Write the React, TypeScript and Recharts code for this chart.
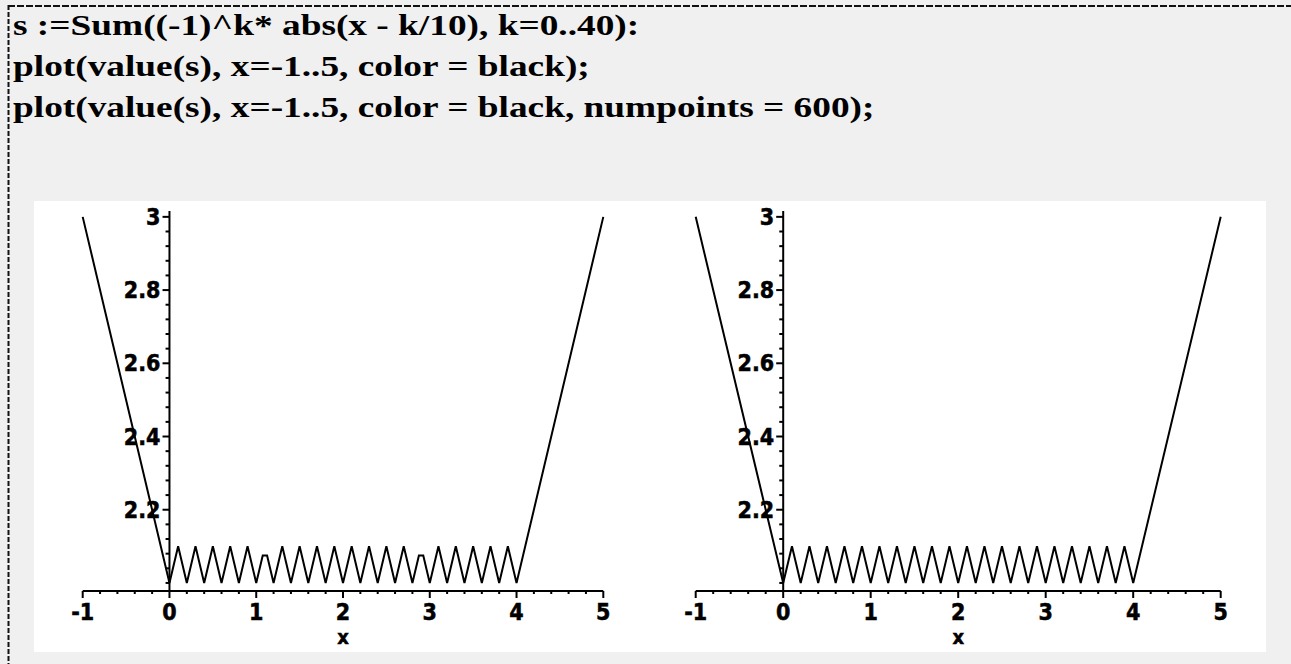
import React from 'react';
import { LineChart, Line, XAxis, YAxis, ReferenceLine } from 'recharts';

// value(s), s = Sum((-1)^k*abs(x - k/10), k=0..40), on x = -1..5
// default sampling: the sampler cuts two of the teeth short
const coarseX = [-1, 0, 0.1, 0.2, 0.3, 0.4, 0.5, 0.6, 0.7, 0.8, 0.9, 1, 1.075, 1.125, 1.2, 1.3, 1.4, 1.5, 1.6, 1.7, 1.8, 1.9, 2, 2.1, 2.2, 2.3, 2.4, 2.5, 2.6, 2.7, 2.8, 2.875, 2.925, 3, 3.1, 3.2, 3.3, 3.4, 3.5, 3.6, 3.7, 3.8, 3.9, 4, 5];
const coarseY = [3, 2, 2.1, 2, 2.1, 2, 2.1, 2, 2.1, 2, 2.1, 2, 2.075, 2.075, 2, 2.1, 2, 2.1, 2, 2.1, 2, 2.1, 2, 2.1, 2, 2.1, 2, 2.1, 2, 2.1, 2, 2.075, 2.075, 2, 2.1, 2, 2.1, 2, 2.1, 2, 2.1, 2, 2.1, 2, 3];

// numpoints = 600: every tooth resolved
const fineX = [-1, 0, 0.1, 0.2, 0.3, 0.4, 0.5, 0.6, 0.7, 0.8, 0.9, 1, 1.1, 1.2, 1.3, 1.4, 1.5, 1.6, 1.7, 1.8, 1.9, 2, 2.1, 2.2, 2.3, 2.4, 2.5, 2.6, 2.7, 2.8, 2.9, 3, 3.1, 3.2, 3.3, 3.4, 3.5, 3.6, 3.7, 3.8, 3.9, 4, 5];
const fineY = [3, 2, 2.1, 2, 2.1, 2, 2.1, 2, 2.1, 2, 2.1, 2, 2.1, 2, 2.1, 2, 2.1, 2, 2.1, 2, 2.1, 2, 2.1, 2, 2.1, 2, 2.1, 2, 2.1, 2, 2.1, 2, 2.1, 2, 2.1, 2, 2.1, 2, 2.1, 2, 2.1, 2, 3];

const xMajorTicks = [-1, 0, 1, 2, 3, 4, 5];
const yMajorTicks = [2.2, 2.4, 2.6, 2.8, 3];
const yTickLabels = ['2.2', '2.4', '2.6', '2.8', '3'];

const codeLines = [
  's :=Sum((-1)^k* abs(x - k/10), k=0..40):',
  'plot(value(s), x=-1..5, color = black);',
  'plot(value(s), x=-1..5, color = black, numpoints = 600);',
];

const X_MINOR_STEP = 0.2;
const Y_MINOR_STEP = 0.04;
const Y_MIN = 1.978;
const Y_MAX = 3.016;

const axisFont = {
  fontFamily: "'DejaVu Sans Condensed', 'DejaVu Sans', sans-serif",
  fontWeight: 'bold',
  fontSize: 23,
  stroke: '#000',
  strokeWidth: 0.5,
};

// minor ticks between the labelled ones
const xTicks: number[] = [];
for (let i = 0; i < xMajorTicks.length - 1; i++) {
  for (let v = xMajorTicks[i]; v < xMajorTicks[i + 1] - 1e-9; v += X_MINOR_STEP) {
    xTicks.push(Math.round(v * 10) / 10);
  }
}
xTicks.push(xMajorTicks[xMajorTicks.length - 1]);

const yMinorTicks: number[] = [];
for (let v = 2; v < 3 + 1e-9; v += Y_MINOR_STEP) {
  const t = Math.round(v * 100) / 100;
  if (!yMajorTicks.some((m) => Math.abs(m - t) < 1e-6)) yMinorTicks.push(t);
}

const zip = (xs: number[], ys: number[]) => xs.map((x, i) => ({ x, y: ys[i] }));

const XTick = (props: any) => {
  const { x, y, payload } = props;
  const v = payload.value;
  const major = xMajorTicks.some((m) => Math.abs(m - v) < 1e-6);
  return (
    <g>
      <line x1={x} y1={y} x2={x} y2={y + (major ? 7 : 3)} stroke="#000" strokeWidth={2} />
      {major && (
        <text x={x} y={y + 29} textAnchor="middle" fill="#000" {...axisFont}>
          {String(v)}
        </text>
      )}
    </g>
  );
};

interface PlotProps {
  xs: number[];
  ys: number[];
  left: number;
  marginLeft: number;
  marginRight: number;
}

const Plot: React.FC<PlotProps> = ({ xs, ys, left, marginLeft, marginRight }) => {
  const data = zip(xs, ys);
  return (
    <div style={{ position: 'absolute', left, top: 201 }}>
      <LineChart
        width={632}
        height={451}
        data={data}
        margin={{ top: 10, right: marginRight, bottom: 6, left: marginLeft }}
      >
        <XAxis
          dataKey="x"
          type="number"
          domain={[-1, 5]}
          ticks={xTicks}
          interval={0}
          tickSize={0}
          tickMargin={0}
          tickLine={false}
          tick={<XTick />}
          axisLine={{ stroke: '#000', strokeWidth: 2 }}
          height={55}
          label={{ value: 'x', position: 'insideBottom', offset: 2, fill: '#000', ...axisFont, fontSize: 20 }}
        />
        <YAxis hide type="number" domain={[Y_MIN, Y_MAX]} allowDataOverflow />
        <ReferenceLine x={0} stroke="#000" strokeWidth={2} />
        {yMinorTicks.map((t) => (
          <ReferenceLine
            key={`m${t}`}
            segment={[{ x: -0.045, y: t }, { x: 0, y: t }]}
            stroke="#000"
            strokeWidth={2}
          />
        ))}
        {yMajorTicks.map((t, i) => (
          <ReferenceLine
            key={`M${t}`}
            segment={[{ x: -0.08, y: t }, { x: 0, y: t }]}
            stroke="#000"
            strokeWidth={2}
            label={{ value: yTickLabels[i], position: 'left', offset: 2, fill: '#000', ...axisFont }}
          />
        ))}
        <Line
          type="linear"
          dataKey="y"
          stroke="#000"
          strokeWidth={2}
          dot={false}
          isAnimationActive={false}
        />
      </LineChart>
    </div>
  );
};

export default function App() {
  return (
    <div
      style={{
        position: 'absolute',
        left: 0,
        top: 0,
        width: 1291,
        height: 664,
        background: '#f0f0f0',
        overflow: 'hidden',
      }}
    >
      <svg width={1291} height={664} style={{ position: 'absolute', left: 0, top: 0 }}>
        <line x1={8} y1={6} x2={1291} y2={6} stroke="#111" strokeWidth={2} strokeDasharray="7 2" />
        <line x1={8.5} y1={5} x2={8.5} y2={664} stroke="#111" strokeWidth={2} strokeDasharray="5 2" />
        {/* the worksheet is shown stretched sideways */}
        <g transform="translate(13 0) scale(1.31 1)">
          {codeLines.map((t, i) => (
            <text
              key={i}
              x={0}
              y={35 + i * 41}
              fontFamily="'Liberation Serif', 'Times New Roman', serif"
              fontWeight="bold"
              fontSize={28.5}
              fill="#000"
            >
              {t}
            </text>
          ))}
        </g>
      </svg>
      <div style={{ position: 'absolute', left: 34, top: 201, width: 1232, height: 451, background: '#fff' }} />
      <Plot xs={coarseX} ys={coarseY} left={34} marginLeft={48.7} marginRight={62.7} />
      <Plot xs={fineX} ys={fineY} left={634} marginLeft={61.7} marginRight={45.3} />
    </div>
  );
}
